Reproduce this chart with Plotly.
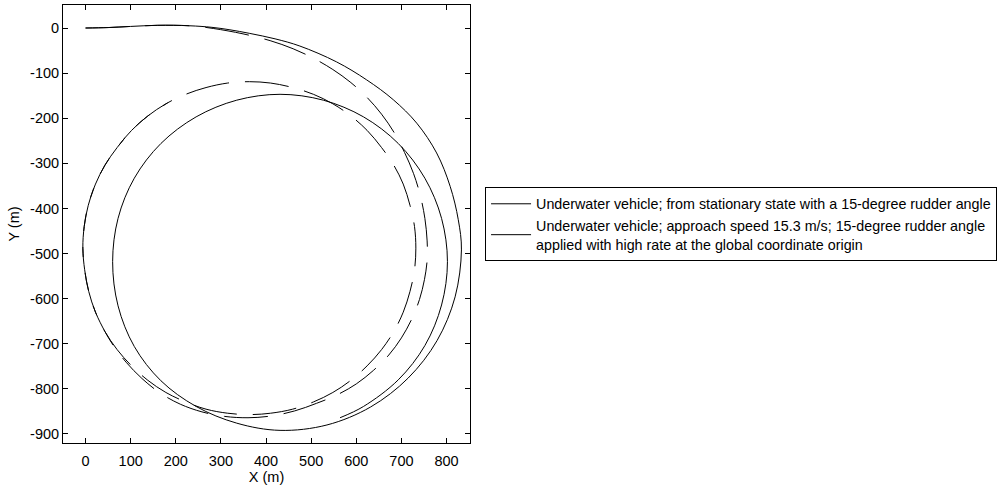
import plotly.graph_objects as go

# Trajectory of the vehicle starting from rest (solid line)
solid_x = [0, 50, 100, 160, 230, 280, 320, 364, 420, 475, 556, 623, 682, 734, 778, 808, 826,
           833, 819, 779, 715, 632, 535, 431,
           335, 245, 167, 108, 72, 60, 72, 108, 167, 245, 335, 431, 527, 616, 693, 752, 789,
           802, 789, 752, 693, 616, 564]
solid_y = [0, 1, 3.5, 6, 5, 1.5, -4, -12, -24, -40, -75, -115, -159, -211, -277, -351, -425,
           -492, -596, -693, -776, -840, -880, -892,
           -876, -839, -782, -706, -616, -518, -422, -333, -256, -197, -160, -147, -160, -197,
           -256, -333, -422, -518, -614, -704, -780, -839, -864]

# Trajectory with approach speed 15.3 m/s (dashed line)
dash_x = [0, 50, 100, 160, 230, 283, 349, 409, 460, 505, 548, 588, 624, 656, 684, 707, 727,
          742, 752, 757, 757, 751, 740, 723, 700, 672, 638, 600, 558, 512, 463, 412, 360, 308,
          258, 210, 165, 125, 90, 61,
          43, 22, 7, -2, -6, -3, 6, 22, 43, 70, 102, 138, 178, 222, 267, 315, 363, 410, 459,
          505, 548, 588, 624, 656, 683, 704, 719, 729, 732, 729, 719, 704, 683, 656, 624, 588,
          548, 505, 459, 410, 363, 315, 267, 222, 178, 138, 102, 70, 43, 22, 7, -2, -6, -3, 6,
          22, 43, 70, 102, 138, 182]
dash_y = [0, 1, 3.5, 6, 5, -1, -13, -28, -46, -67, -92, -121, -154, -191, -232, -276, -323,
          -372, -422, -472, -515, -558, -602, -645, -687, -725, -759, -789, -813, -832, -849,
          -860, -864, -861, -851, -834, -809, -777, -741, -703,
          -673, -630, -584, -536, -488, -440, -393, -346, -304, -265, -227, -195, -168, -147,
          -132, -122, -119, -122, -132, -147, -168, -195, -227, -265, -304, -346, -393, -440,
          -488, -536, -584, -630, -673, -713, -749, -781, -808, -829, -845, -854, -857, -854,
          -845, -829, -808, -781, -749, -713, -673, -630, -584, -536, -488, -440, -393, -346,
          -304, -265, -227, -195, -166]

name_solid = "Underwater vehicle; from stationary state with a 15-degree rudder angle"
name_dash = ("Underwater vehicle; approach speed 15.3 m/s; 15-degree rudder angle<br>"
             "applied with high rate at the global coordinate origin")

x_ticks = [0, 100, 200, 300, 400, 500, 600, 700, 800]
y_ticks = [0, -100, -200, -300, -400, -500, -600, -700, -800, -900]

font_family = "Arial, 'Liberation Sans', Helvetica, sans-serif"
font_size = 14.5
legend_font_size = 14.3

fig = go.Figure()
fig.add_trace(go.Scatter(
    x=solid_x, y=solid_y, mode="lines", name=name_solid,
    line=dict(color="black", width=1, shape="spline", smoothing=1.0),
))
fig.add_trace(go.Scatter(
    x=dash_x, y=dash_y, mode="lines", name=name_dash,
    line=dict(color="black", width=1, shape="spline", smoothing=1.0, dash="44px,16px"),
))

axis_common = dict(
    showgrid=False, zeroline=False, showline=True, linecolor="black", linewidth=1,
    mirror="allticks", ticks="inside", ticklen=5, tickcolor="black", tickwidth=1,
    tickfont=dict(family=font_family, size=font_size, color="black"),
)

fig.update_xaxes(
    range=[-50, 852], tickvals=x_ticks, ticktext=[str(v) for v in x_ticks],
    ticklabelstandoff=5,
    title=dict(text="X (m)", font=dict(family=font_family, size=font_size, color="black"),
               standoff=0),
    **axis_common,
)
fig.update_yaxes(
    range=[-920, 51], tickvals=y_ticks, ticktext=[str(v) for v in y_ticks],
    title=dict(text="Y (m)", font=dict(family=font_family, size=font_size, color="black"),
               standoff=6),
    **axis_common,
)

fig.update_layout(
    width=1004, height=487,
    margin=dict(l=63, r=534, t=5, b=44, autoexpand=False),
    paper_bgcolor="white", plot_bgcolor="white",
    font=dict(family=font_family, size=font_size, color="black"),
    showlegend=True,
    legend=dict(
        x=1.037, y=0.5, xanchor="left", yanchor="middle",
        bgcolor="white", bordercolor="black", borderwidth=1,
        font=dict(family=font_family, size=legend_font_size, color="black"),
        tracegroupgap=0, itemwidth=40,
    ),
)

fig.write_html("out.html")
